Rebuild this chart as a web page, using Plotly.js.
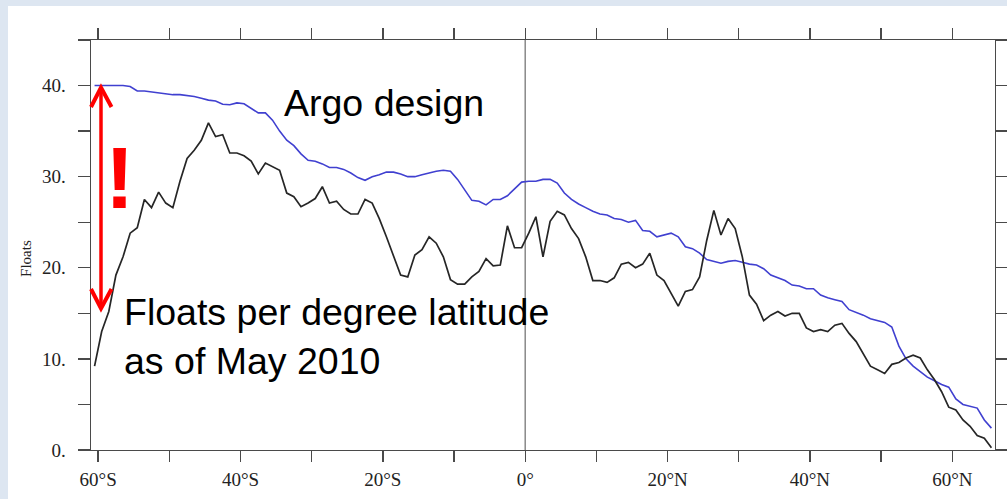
<!DOCTYPE html>
<html>
<head>
<meta charset="utf-8">
<script src="https://cdn.plot.ly/plotly-3.0.1.min.js"></script>
<style>html,body{margin:0;padding:0;background:#dde6f1;}</style>
</head>
<body>
<div id="chart" style="width:1007px;height:499px;"></div>
<script>
// Latitude bin centres (degrees, negative = south)
const latitude = [-60.5,-59.5,-58.5,-57.5,-56.5,-55.5,-54.5,-53.5,-52.5,-51.5,
  -50.5,-49.5,-48.5,-47.5,-46.5,-45.5,-44.5,-43.5,-42.5,-41.5,
  -40.5,-39.5,-38.5,-37.5,-36.5,-35.5,-34.5,-33.5,-32.5,-31.5,
  -30.5,-29.5,-28.5,-27.5,-26.5,-25.5,-24.5,-23.5,-22.5,-21.5,
  -20.5,-19.5,-18.5,-17.5,-16.5,-15.5,-14.5,-13.5,-12.5,-11.5,
  -10.5,-9.5,-8.5,-7.5,-6.5,-5.5,-4.5,-3.5,-2.5,-1.5,
  -0.5,0.5,1.5,2.5,3.5,4.5,5.5,6.5,7.5,8.5,
  9.5,10.5,11.5,12.5,13.5,14.5,15.5,16.5,17.5,18.5,
  19.5,20.5,21.5,22.5,23.5,24.5,25.5,26.5,27.5,28.5,
  29.5,30.5,31.5,32.5,33.5,34.5,35.5,36.5,37.5,38.5,
  39.5,40.5,41.5,42.5,43.5,44.5,45.5,46.5,47.5,48.5,
  49.5,50.5,51.5,52.5,53.5,54.5,55.5,56.5,57.5,58.5,
  59.5,60.5,61.5,62.5,63.5,64.5,65.5];

// Floats per degree latitude as of May 2010 (black)
const floatsMay2010 = [9.2,13.0,15.2,19.2,21.2,23.8,24.4,27.5,26.6,28.3,
  27.1,26.6,29.5,32.0,32.9,34.0,35.9,34.4,34.6,32.6,
  32.6,32.3,31.7,30.3,31.5,31.1,30.7,28.2,27.8,26.7,
  27.1,27.6,28.9,27.1,27.3,26.4,25.9,25.9,27.5,27.1,
  25.4,23.4,21.2,19.2,19.0,21.4,22.0,23.4,22.7,21.2,
  18.7,18.2,18.2,19.0,19.6,21.0,20.2,20.3,24.6,22.2,
  22.2,23.8,25.6,21.2,25.1,26.2,25.8,24.3,23.2,21.2,
  18.6,18.6,18.4,18.9,20.4,20.6,20.0,20.4,21.6,19.2,
  18.6,17.2,15.8,17.4,17.6,19.0,23.0,26.3,23.6,25.4,
  24.3,21.2,17.0,16.0,14.2,14.8,15.2,14.7,15.0,15.0,
  13.4,13.0,13.2,13.0,13.7,13.9,12.8,11.9,10.6,9.2,
  8.8,8.4,9.4,9.6,10.1,10.4,10.1,8.8,7.7,6.4,
  4.7,4.4,3.3,2.6,1.6,1.3,0.25];

// Argo design density (blue)
const argoDesign = [40,40,40,40,40,39.9,39.4,39.4,39.3,39.2,
  39.1,39.0,39.0,38.9,38.8,38.6,38.4,38.3,37.95,37.9,
  38.1,38.0,37.5,37.0,37.0,36.2,35.0,34.0,33.4,32.5,
  31.8,31.7,31.4,31.0,31.0,30.8,30.4,29.9,29.6,30.0,
  30.2,30.5,30.5,30.3,30.0,30.0,30.2,30.4,30.6,30.7,
  30.6,29.7,28.6,27.4,27.3,26.9,27.5,27.5,27.9,28.6,
  29.4,29.5,29.5,29.7,29.7,29.3,28.2,27.5,27.0,26.6,
  26.2,25.9,25.8,25.4,25.3,25.0,25.2,24.1,24.0,23.4,
  23.6,23.8,23.4,22.3,22.1,21.6,20.9,20.7,20.5,20.7,
  20.8,20.6,20.4,20.3,19.9,19.2,18.9,18.6,18.1,18.0,
  17.7,17.7,17.0,16.7,16.5,16.3,15.4,15.1,14.8,14.4,
  14.2,14.0,13.5,11.4,10.0,9.2,8.6,8.0,7.6,7.2,
  6.9,5.6,5.0,4.8,4.6,3.3,2.4];

const xTickVals = [-60,-50,-40,-30,-20,-10,0,10,20,30,40,50,60];
const xTickText = ["60°S","","40°S","","20°S","","0°","","20°N","","40°N","","60°N"];
const yTickVals = [0,5,10,15,20,25,30,35,40,45];
const yTickText = ["0.","","10.","","20.","","30.","","40.",""];

const axisColor = '#4a4a4a';
const serif = 'Liberation Serif, Times New Roman, serif';
const sans = 'Liberation Sans, Arial, sans-serif';

const traces = [
  {x: latitude, y: argoDesign, type: 'scatter', mode: 'lines', name: 'Argo design',
   line: {color: '#4040d0', width: 1.6}, hoverinfo: 'skip'},
  {x: latitude, y: floatsMay2010, type: 'scatter', mode: 'lines', name: 'Floats May 2010',
   line: {color: '#262626', width: 1.7}, hoverinfo: 'skip'}
];

const layout = {
  width: 1007, height: 499,
  margin: {l: 91, r: 12, t: 40, b: 49, pad: 0},
  paper_bgcolor: '#dde6f1',
  plot_bgcolor: '#ffffff',
  showlegend: false,
  xaxis: {
    range: [-61, 66], tickmode: 'array', tickvals: xTickVals, ticktext: xTickText,
    ticks: 'outside', ticklen: 11, tickwidth: 1.4, tickcolor: axisColor,
    showline: true, linecolor: axisColor, linewidth: 1.4, mirror: 'allticks',
    showgrid: false, zeroline: false,
    tickfont: {family: serif, size: 19, color: '#222'}, ticklabelstandoff: 1
  },
  yaxis: {
    range: [0, 45], tickmode: 'array', tickvals: yTickVals, ticktext: yTickText,
    ticks: 'outside', ticklen: 12, tickwidth: 1.4, tickcolor: axisColor,
    showline: true, linecolor: axisColor, linewidth: 1.4, mirror: 'allticks',
    showgrid: false, zeroline: false,
    tickfont: {family: serif, size: 19, color: '#222'}, ticklabelstandoff: 8
  },
  shapes: [
    {type: 'rect', xref: 'paper', yref: 'paper', x0: -0.0918, x1: 1.02, y0: -0.13, y1: 1.083,
     fillcolor: '#ffffff', line: {width: 0}, layer: 'below'},
    {type: 'line', xref: 'x', yref: 'paper', x0: 0, x1: 0, y0: 0, y1: 1,
     line: {color: '#808080', width: 1.4}, layer: 'below'},
    {type: 'line', xref: 'paper', yref: 'paper', x0: 0.01106, x1: 0.01106, y0: 0.3475, y1: 0.8815,
     line: {color: '#ff0000', width: 3.5}},
    {type: 'path', xref: 'paper', yref: 'paper', path: 'M 0,0.8366 L 0.01106,0.8841 L 0.02267,0.8366',
     line: {color: '#ff0000', width: 4}},
    {type: 'path', xref: 'paper', yref: 'paper', path: 'M 0,0.3927 L 0.01106,0.3451 L 0.02267,0.3927',
     line: {color: '#ff0000', width: 4}}
  ],
  annotations: [
    {text: 'Argo design', xref: 'paper', yref: 'paper', x: 0.2112, y: 0.846,
     xanchor: 'left', yanchor: 'middle', showarrow: false,
     font: {family: sans, size: 37.5, color: '#000'}},
    {text: 'Floats per degree latitude<br>as of May 2010', xref: 'paper', yref: 'paper', x: 0.0343, y: 0.276,
     xanchor: 'left', yanchor: 'middle', align: 'left', showarrow: false,
     font: {family: sans, size: 37.5, color: '#000'}},
    {text: '!', xref: 'paper', yref: 'paper', x: 0.031, y: 0.664,
     xanchor: 'center', yanchor: 'middle', showarrow: false,
     font: {family: sans, size: 88, color: '#ff0000', weight: 'bold'}},
    {text: 'Floats', xref: 'paper', yref: 'paper', x: -0.0719, y: 0.466,
     xanchor: 'center', yanchor: 'middle', textangle: -90, showarrow: false,
     font: {family: serif, size: 15, color: '#222'}}
  ]
};

Plotly.newPlot('chart', traces, layout, {staticPlot: true, displayModeBar: false});
</script>
</body>
</html>
